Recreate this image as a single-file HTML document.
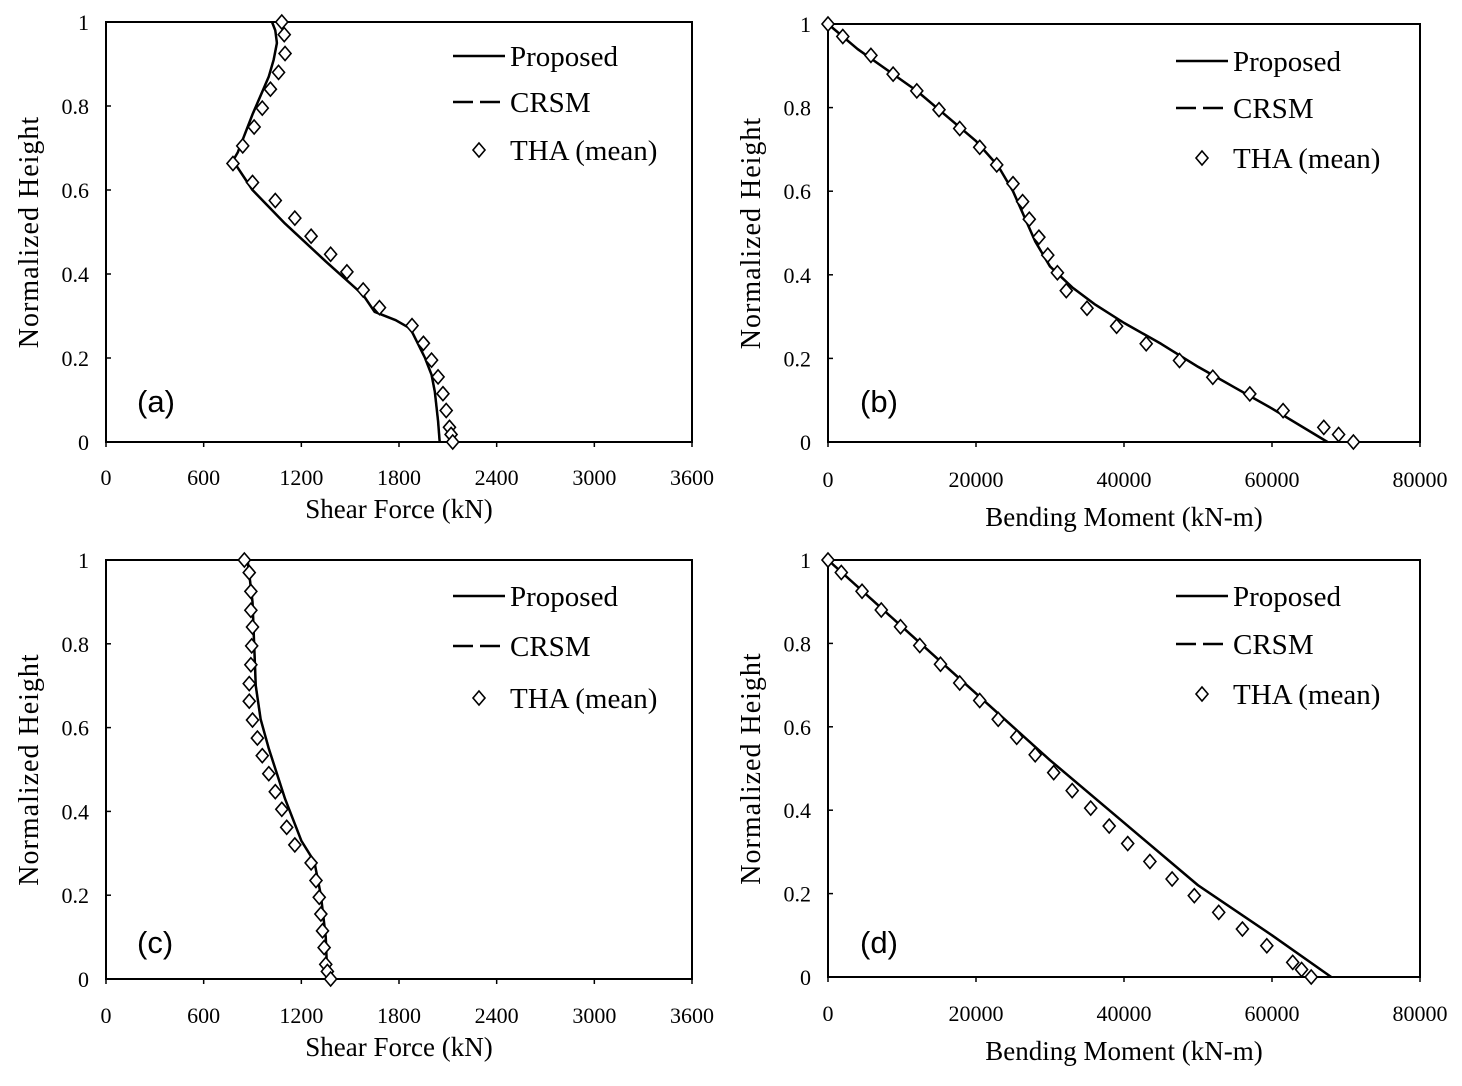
<!DOCTYPE html>
<html><head><meta charset="utf-8"><style>
body{margin:0;background:#fff}
svg text{font-family:"Liberation Serif",serif;fill:#000}
</style></head><body>
<svg id="fig" width="1462" height="1081" xmlns="http://www.w3.org/2000/svg"></svg>
<script>
const heights=[1,0.97,0.925,0.88,0.84,0.795,0.75,0.705,0.663,0.618,0.575,0.533,0.49,0.447,0.405,0.362,0.32,0.277,0.235,0.195,0.155,0.115,0.075,0.035,0.018,0];
const thaA=[1080,1095,1100,1060,1010,960,910,840,780,900,1040,1160,1260,1380,1480,1580,1680,1880,1950,2000,2040,2070,2090,2110,2120,2130];
const lineAx=[1020,1040,1050,1030,1000,900,810,780,900,1100,1350,1580,1650,1780,1870,1960,2000,2020,2040,2050];
const lineAy=[1,0.98,0.95,0.91,0.87,0.78,0.69,0.67,0.6,0.52,0.43,0.35,0.31,0.29,0.27,0.2,0.16,0.12,0.05,0];
const thaB=[0,2000,5800,8800,12000,15000,17800,20500,22800,25000,26300,27200,28500,29700,31000,32200,35000,39000,43000,47500,52000,57000,61500,67000,69000,71000];
const lineBx=[0,4000,8000,12000,16000,20000,23000,25000,26500,28000,30000,33000,36000,40000,45000,50000,55000,60000,67500];
const lineBy=[1,0.94,0.89,0.84,0.78,0.72,0.66,0.6,0.54,0.48,0.42,0.37,0.33,0.285,0.235,0.18,0.13,0.08,0];
const thaC=[850,880,890,890,900,895,890,880,880,900,930,960,1000,1040,1080,1110,1160,1260,1290,1310,1320,1330,1340,1350,1360,1380];
const lineCx=[870,900,920,950,1000,1100,1200,1280,1320,1350,1360];
const lineCy=[1,0.9,0.7,0.62,0.55,0.43,0.33,0.28,0.2,0.1,0];
const thaD=[0,1800,4600,7200,9800,12400,15200,17800,20500,23000,25500,28000,30500,33000,35500,38000,40500,43500,46500,49500,52800,56000,59300,62800,64000,65300];
const lineDx=[0,10000,20000,30000,40000,50000,60000,68000];
const lineDy=[1,0.84,0.68,0.52,0.37,0.22,0.1,0];
const xTicksShear=[0,600,1200,1800,2400,3000,3600];
const xTicksMoment=[0,20000,40000,60000,80000];
const yTicks=[0,0.2,0.4,0.6,0.8,1];

const svg=document.getElementById('fig');
const NS='http://www.w3.org/2000/svg';
function mk(tag,attrs,parent){const e=document.createElementNS(NS,tag);for(const k in attrs)e.setAttribute(k,attrs[k]);(parent||svg).appendChild(e);return e;}

const panels=[
 {id:'a',x0:106,x1:692,y0:22,y1:442,xmax:3600,xt:xTicksShear,tha:thaA,lx:lineAx,ly:lineAy,title:'Shear Force (kN)',ty:518,tickY:485,leg:[56,102,150],lx0:453,lab:[137,412]},
 {id:'b',x0:828,x1:1420,y0:24,y1:442,xmax:80000,xt:xTicksMoment,tha:thaB,lx:lineBx,ly:lineBy,title:'Bending Moment (kN-m)',ty:526,tickY:487,leg:[61,108,158],lx0:1176,lab:[860,412]},
 {id:'c',x0:106,x1:692,y0:560,y1:979,xmax:3600,xt:xTicksShear,tha:thaC,lx:lineCx,ly:lineCy,title:'Shear Force (kN)',ty:1056,tickY:1023,leg:[596,646,698],lx0:453,lab:[137,953]},
 {id:'d',x0:828,x1:1420,y0:560,y1:977,xmax:80000,xt:xTicksMoment,tha:thaD,lx:lineDx,ly:lineDy,title:'Bending Moment (kN-m)',ty:1060,tickY:1021,leg:[596,644,694],lx0:1176,lab:[860,953]}
];
panels.forEach(p=>{
 const g=mk('g',{});
 
 
 const sx=v=>p.x0+(p.x1-p.x0)*v/p.xmax;
 const sy=v=>p.y1-(p.y1-p.y0)*v;
 const box=mk('rect',{x:p.x0,y:p.y0,width:p.x1-p.x0,height:p.y1-p.y0,fill:'none',stroke:'#000','stroke-width':2},g);
 
 
 p.xt.forEach(t=>{
  mk('line',{x1:sx(t),x2:sx(t),y1:p.y1,y2:p.y1+5,stroke:'#000','stroke-width':1.5},g);
  const tx=mk('text',{x:sx(t),y:p.tickY,'text-anchor':'middle','font-size':22},g);tx.textContent=t;
  
  
 });
 yTicks.forEach(t=>{
  mk('line',{x1:p.x0,x2:p.x0+5,y1:sy(t),y2:sy(t),stroke:'#000','stroke-width':1.5},g);
  const tx=mk('text',{x:p.x0-17,y:sy(t)+8,'text-anchor':'end','font-size':22},g);tx.textContent=t;
  
  
 });
 const xt=mk('text',{x:(p.x0+p.x1)/2,y:p.ty,'text-anchor':'middle','font-size':27},g);xt.textContent=p.title;
 
 
 const yc=(p.y0+p.y1)/2, yx=p.x0-68;
 const yt=mk('text',{x:yx,y:yc,'text-anchor':'middle','font-size':28,'letter-spacing':1,transform:`rotate(-90 ${yx} ${yc})`},g);yt.textContent='Normalized Height';
 
 
 const pts=p.lx.map((v,i)=>sx(v)+','+sy(p.ly[i])).join(' ');
 const l1=mk('polyline',{points:pts,fill:'none',stroke:'#000','stroke-width':2.5,'stroke-linejoin':'round'},g);
 
 
 const l2=mk('polyline',{points:pts,fill:'none',stroke:'#000','stroke-width':2,'stroke-dasharray':'12 6'},g);
 
 
 p.tha.forEach((v,i)=>{
  const cx=sx(v),cy=sy(heights[i]);
  const d=mk('polygon',{points:`${cx},${cy-7} ${cx+6},${cy} ${cx},${cy+7} ${cx-6},${cy}`,fill:'#fff',stroke:'#000','stroke-width':1.6},g);
  
  
 });
 const names=['Proposed','CRSM','THA (mean)'];
 const lg=mk('g',{},g);
 
 
 mk('line',{x1:p.lx0,x2:p.lx0+52,y1:p.leg[0],y2:p.leg[0],stroke:'#000','stroke-width':2.5},lg);
 mk('line',{x1:p.lx0,x2:p.lx0+52,y1:p.leg[1],y2:p.leg[1],stroke:'#000','stroke-width':2.5,'stroke-dasharray':'20 7'},lg);
 const c=p.lx0+26,cy=p.leg[2];
 mk('polygon',{points:`${c},${cy-7} ${c+6},${cy} ${c},${cy+7} ${c-6},${cy}`,fill:'#fff',stroke:'#000','stroke-width':1.6},lg);
 names.forEach((n,i)=>{
  const t=mk('text',{x:p.lx0+57,y:p.leg[i]+10,'font-size':29},lg);t.textContent=n;
  
  
 });
 const lb=mk('text',{x:p.lab[0],y:p.lab[1],'font-size':31,style:'font-family:"Liberation Sans",sans-serif'},g);lb.textContent='('+p.id+')';
 
 
});
</script>
</body></html>
